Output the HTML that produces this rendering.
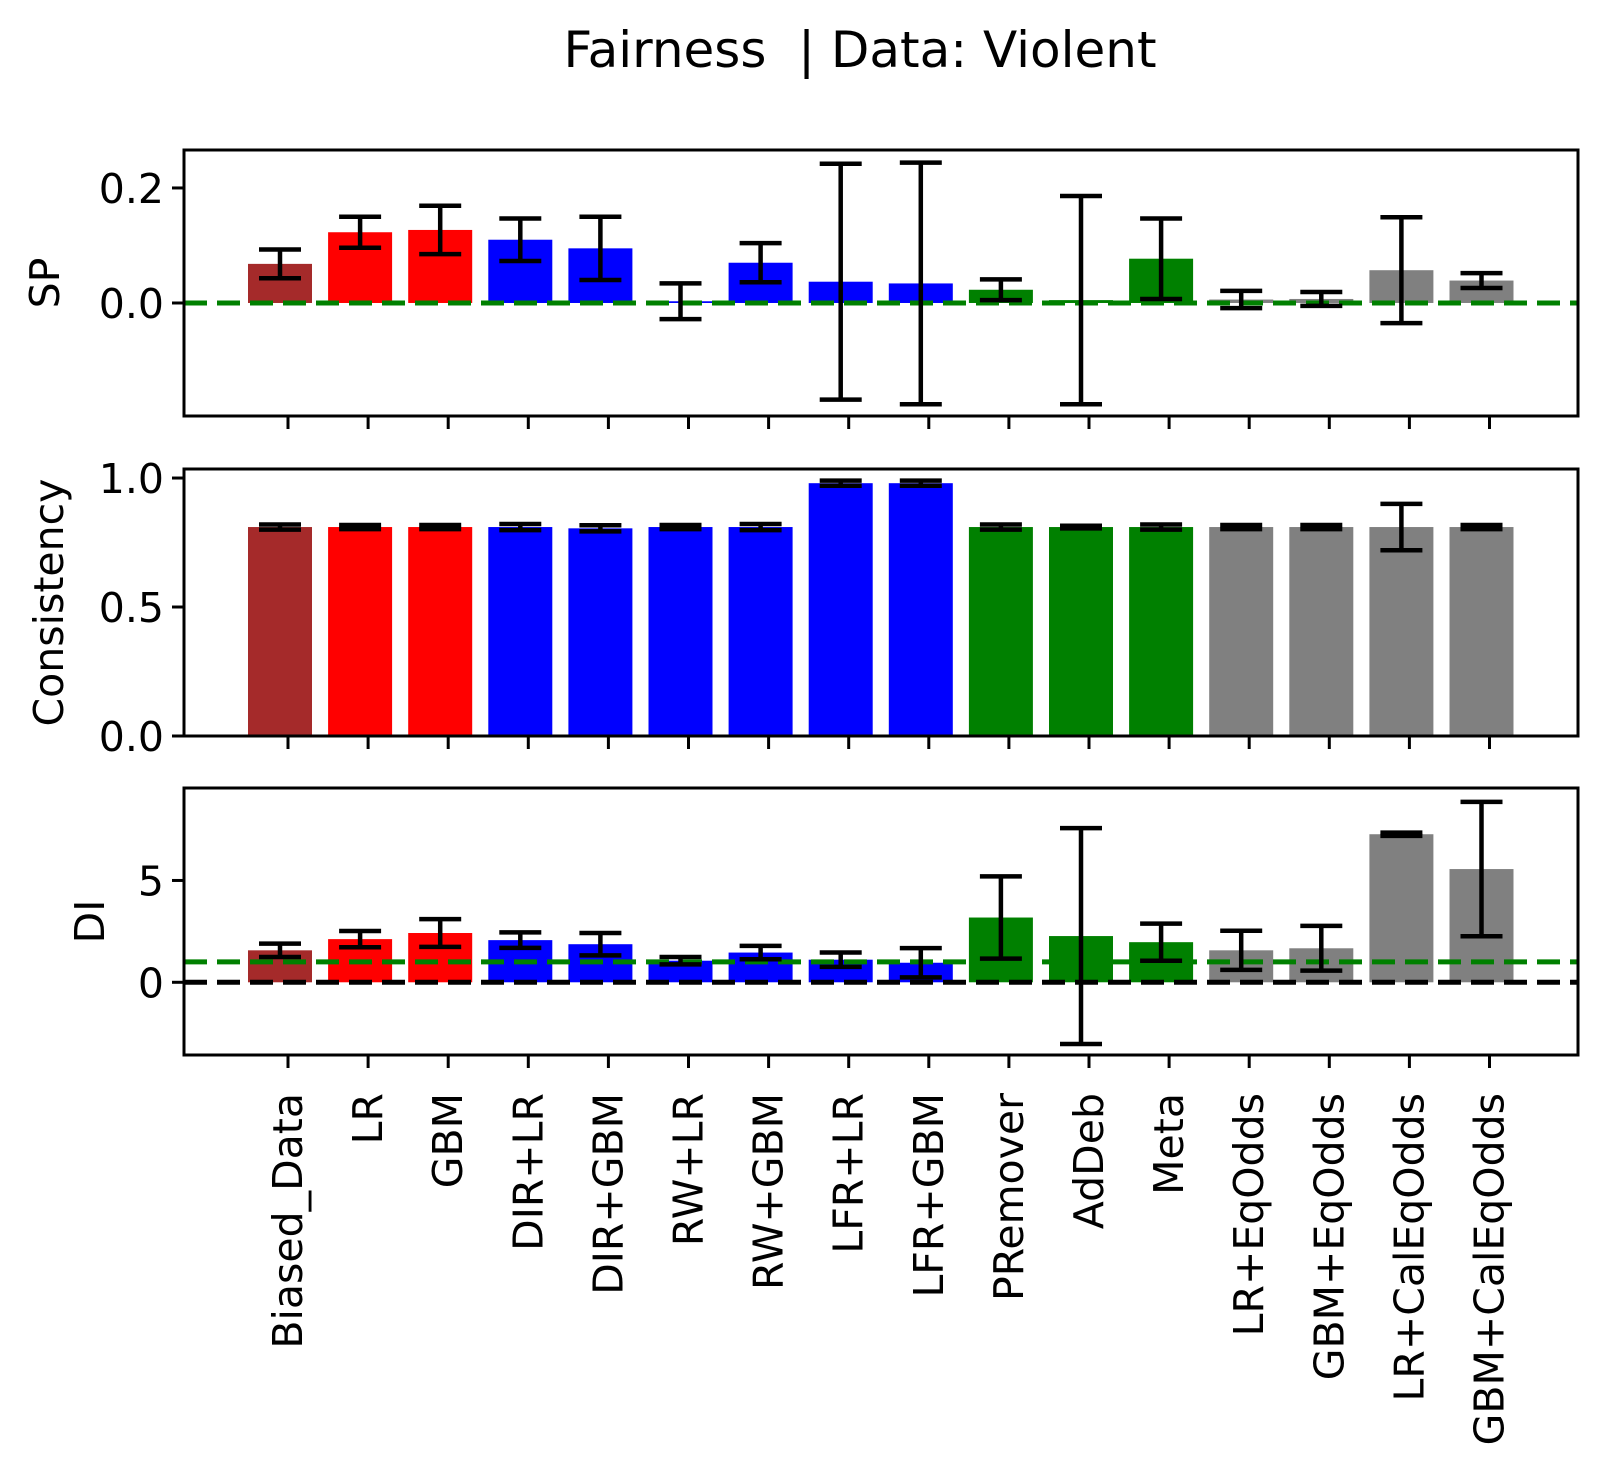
<!DOCTYPE html>
<html><head><meta charset="utf-8"><style>
body{margin:0;background:#fff;}
svg{display:block;font-family:"DejaVu Sans","Liberation Sans",sans-serif;}
</style></head><body>
<svg id="chart" width="1609" height="1473" viewBox="0 0 1609 1473" xmlns="http://www.w3.org/2000/svg">
<rect width="1609" height="1473" fill="#fff"/>
<text x="860" y="67" font-size="50" text-anchor="middle" xml:space="preserve" style="white-space:pre">Fairness  | Data: Violent</text>
</svg>
<script>
const categories=["Biased_Data","LR","GBM","DIR+LR","DIR+GBM","RW+LR","RW+GBM","LFR+LR","LFR+GBM","PRemover","AdDeb","Meta","LR+EqOdds","GBM+EqOdds","LR+CalEqOdds","GBM+CalEqOdds"];
const barColors=["#a52a2a","#ff0000","#ff0000","#0000ff","#0000ff","#0000ff","#0000ff","#0000ff","#0000ff","#008000","#008000","#008000","#808080","#808080","#808080","#808080"];
const spValues=[0.068,0.123,0.127,0.110,0.095,0.003,0.070,0.037,0.034,0.023,0.005,0.077,0.006,0.007,0.057,0.039];
const spErrors=[0.025,0.027,0.042,0.037,0.055,0.031,0.034,0.205,0.210,0.018,0.181,0.070,0.015,0.012,0.092,0.013];
const consValues=[0.81,0.81,0.81,0.81,0.805,0.81,0.81,0.98,0.98,0.81,0.81,0.81,0.81,0.81,0.81,0.81];
const consErrors=[0.01,0.008,0.008,0.012,0.012,0.008,0.012,0.01,0.01,0.01,0.005,0.01,0.008,0.008,0.09,0.008];
const diValues=[1.57,2.12,2.42,2.07,1.87,1.06,1.46,1.11,0.96,3.18,2.27,1.97,1.57,1.67,7.27,5.56];
const diErrors=[0.33,0.40,0.68,0.38,0.55,0.18,0.33,0.35,0.72,2.02,5.30,0.91,0.96,1.10,0.08,3.30];
const spTicks=[0.0,0.2], spTickLabels=["0.0","0.2"];
const consTicks=[0,0.5,1.0], consTickLabels=["0.0","0.5","1.0"];
const diTicks=[0,5], diTickLabels=["0","5"];

const NS="http://www.w3.org/2000/svg";
const svg=document.getElementById('chart');
function mk(tag,attrs,parent){const e=document.createElementNS(NS,tag);for(const k in attrs)e.setAttribute(k,attrs[k]);(parent||svg).appendChild(e);return e;}
const L=184,R=1578;
function xPos(i){return 280+i*80.1;}
function tickX(i){return xPos(i)+8;}
const barW=64;

const panels=[
 {name:'sp',top:150,bot:416,ymin:-0.1965,ymax:0.266,vals:spValues,errs:spErrors,ticks:spTicks,tl:spTickLabels,label:'SP',lx:45,lines:[{v:0,c:'#008000'}]},
 {name:'consistency',top:469,bot:736,ymin:0,ymax:1.035,vals:consValues,errs:consErrors,ticks:consTicks,tl:consTickLabels,label:'Consistency',lx:49,lines:[]},
 {name:'di',top:788,bot:1055,ymin:-3.57,ymax:9.54,vals:diValues,errs:diErrors,ticks:diTicks,tl:diTickLabels,label:'DI',lx:90,lines:[{v:0,c:'#000'},{v:1,c:'#008000'}]}
];
panels.forEach((p,pi)=>{
 const y=v=>p.bot-(v-p.ymin)/(p.ymax-p.ymin)*(p.bot-p.top);
 const g=mk('g',{});
 
 
 const y0=y(Math.max(0,p.ymin));
 p.vals.forEach((v,i)=>{
  const r=mk('rect',{x:xPos(i)-barW/2,y:Math.min(y(v),y0),width:barW,height:Math.abs(y0-y(v)),fill:barColors[i]},g);
  
  
 });
 p.lines.forEach(l=>{
  const ln=mk('line',{x1:L,x2:R,y1:y(l.v),y2:y(l.v),stroke:l.c,'stroke-width':5,'stroke-dasharray':'23 10'},g);
  
  
 });
 p.vals.forEach((v,i)=>{
  const e=p.errs[i],x=xPos(i);
  const eg=mk('g',{stroke:'#000','stroke-width':4.5},g);
  
  
  mk('line',{x1:x,x2:x,y1:y(v-e),y2:y(v+e)},eg);
  mk('line',{x1:x-21,x2:x+21,y1:y(v-e),y2:y(v-e)},eg);
  mk('line',{x1:x-21,x2:x+21,y1:y(v+e),y2:y(v+e)},eg);
 });
 const fr=mk('rect',{x:L,y:p.top,width:R-L,height:p.bot-p.top,fill:'none',stroke:'#000','stroke-width':3},g);
 
 
 p.ticks.forEach((t,k)=>{
  mk('line',{x1:L-12,x2:L,y1:y(t),y2:y(t),stroke:'#000','stroke-width':3},g);
  const tx=mk('text',{x:L-20,y:y(t)+15,'font-size':41,'text-anchor':'end'},g);
  tx.textContent=p.tl[k];
  
  
 });
 categories.forEach((c,i)=>{mk('line',{x1:tickX(i),x2:tickX(i),y1:p.bot,y2:p.bot+13,stroke:'#000','stroke-width':3},g);});
 const cy=(p.top+p.bot)/2;
 const yl=mk('text',{x:p.lx,y:cy,'font-size':41,'text-anchor':'middle',transform:`rotate(-90 ${p.lx} ${cy})`,dy:14},g);
 yl.textContent=p.label;
 
 
});
categories.forEach((c,i)=>{
 const x=tickX(i)+14,yy=1093;
 const t=mk('text',{x:x,y:yy,'font-size':41,'text-anchor':'end',transform:`rotate(-90 ${x} ${yy})`});
 t.textContent=c;
 
 
});
</script>
</body></html>
